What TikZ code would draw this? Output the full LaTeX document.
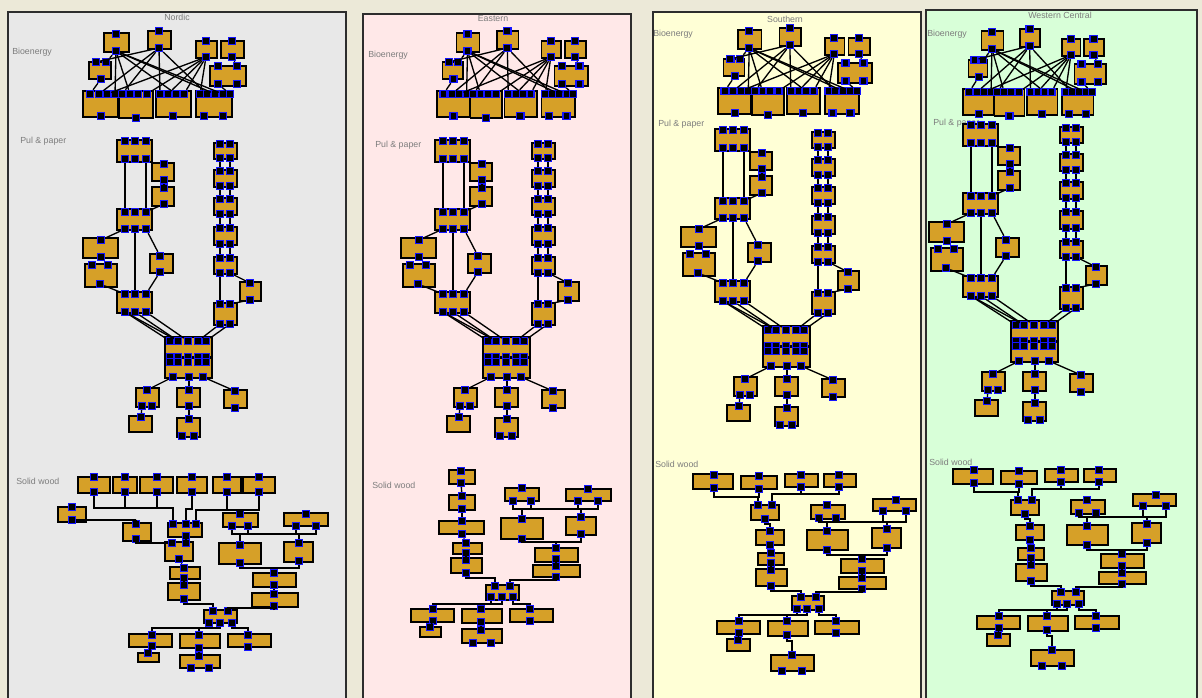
\documentclass[tikz,border=0pt]{standalone}
\usepackage{fontspec}
\setmainfont{Liberation Sans}
\definecolor{bgc}{RGB}{236,233,216}
\definecolor{nordicc}{RGB}{232,232,232}
\definecolor{easternc}{RGB}{255,232,232}
\definecolor{southernc}{RGB}{255,255,214}
\definecolor{westernc}{RGB}{216,255,216}
\definecolor{boxor}{RGB}{214,160,40}
\definecolor{portblue}{RGB}{20,20,255}
\definecolor{lblc}{RGB}{125,125,125}
\definecolor{framec}{RGB}{45,45,45}
\tikzset{
 blk/.style={draw=black, line width=1.15pt, fill=boxor},
 port/.style={rectangle, fill=black, draw=portblue, line width=1pt, minimum size=5.3pt, inner sep=0pt},
 wire/.style={draw=black, line width=1pt},
 panel/.style={draw=framec, line width=1.2pt},
 ttl/.style={text=lblc, font=\fontsize{6.6}{7}\selectfont, inner sep=0pt},
 sec/.style={ttl, anchor=west},
}
\newcommand\myBx[4]{\draw[blk] (#1,#2) rectangle (#3,#4);}
\newcommand\myPt[3]{\node[port] (#1) at (#2,#3) {};}
\newcommand\myWl[2]{\draw[wire] (#1) -- (#2);}
\newcommand\myWo[3]{\draw[wire] (#1) -- ++(0,#3) -| (#2);}
\newcommand\myRbox[3]{\myBx{214}{#2}{237}{#3}%
 \myPt{#1t1}{220}{#2+1}\myPt{#1t2}{230}{#2+1}\myPt{#1b1}{220}{#3-1}\myPt{#1b2}{230}{#3-1}}
% ---------------- Bioenergy (Nordic coordinates)
\newcommand\myBio{%
\myBx{104}{33}{129}{52}\myPt{bAt}{116}{34}\myPt{bAb}{116}{51}
\myBx{148}{31}{171}{49}\myPt{bBt}{159}{31}\myPt{bBb}{159}{48}
\myBx{196}{41}{217}{58}\myPt{bCt}{206}{41}\myPt{bCb}{206}{57}
\myBx{221}{41}{244}{58}\myPt{bDt}{232}{41}\myPt{bDb}{232}{57}
\myBx{89}{62}{111}{79}\myPt{bEt1}{96}{62}\myPt{bEt2}{106}{62}\myPt{bEb}{101}{79}
\myBx{210}{66}{246}{86}\myPt{bFt1}{218}{66}\myPt{bFt2}{237}{66}\myPt{bFb1}{218}{84}\myPt{bFb2}{237}{84}
\myBx{83}{91}{118}{117}\myPt{bGt1}{90}{94}\myPt{bGt2}{99}{94}\myPt{bGt3}{107}{94}\myPt{bGt4}{115}{94}\myPt{bGb}{101}{116}
\myBx{119}{91}{153}{118}\myPt{bHt1}{122}{94}\myPt{bHt2}{130}{94}\myPt{bHt3}{138}{94}\myPt{bHt4}{147}{94}\myPt{bHb}{136}{118}
\myBx{156}{91}{191}{117}\myPt{bIt1}{160}{94}\myPt{bIt2}{168}{94}\myPt{bIt3}{176}{94}\myPt{bIt4}{184}{94}\myPt{bIb}{173}{116}
\myBx{196}{91}{232}{117}\myPt{bJt1}{200}{94}\myPt{bJt2}{207}{94}\myPt{bJt3}{215}{94}\myPt{bJt4}{223}{94}\myPt{bJt5}{230}{94}
\myPt{bJb1}{204}{116}\myPt{bJb2}{223}{116}
\myWl{bAb}{bGt4}\myWl{bAb}{bHt2}\myWl{bAb}{bIt3}\myWl{bAb}{bJt3}\myWl{bAb}{bJt4}\myWl{bAb}{bEt2}
\myWl{bBb}{bIt1}\myWl{bBb}{bGt2}\myWl{bBb}{bHt1}\myWl{bBb}{bJt2}\myWl{bBb}{bEt1}
\myWl{bCb}{bGt3}\myWl{bCb}{bHt4}\myWl{bCb}{bIt2}\myWl{bCb}{bJt1}\myWl{bCb}{bIt4}
\myWl{bDb}{bFt2}\myWl{bEb}{bGt1}\myWl{bFb1}{bJt5}
}
% ---------------- Pulp & paper (Nordic coordinates)
\newcommand\myPulp{%
\myBx{117}{140}{152}{162}
\myPt{pAt1}{125}{141}\myPt{pAt2}{135}{141}\myPt{pAt3}{146}{141}
\myPt{pAb1}{125}{159}\myPt{pAb2}{135}{159}\myPt{pAb3}{146}{159}
\myBx{152}{163}{174}{181}\myPt{pBt}{164}{164}\myPt{pBb}{164}{180}
\myBx{152}{187}{174}{206}\myPt{pCt}{164}{188}\myPt{pCb}{164}{204}
\myBx{117}{209}{152}{230}
\myPt{pDt1}{125}{212}\myPt{pDt2}{135}{212}\myPt{pDt3}{146}{212}
\myPt{pDb1}{125}{229}\myPt{pDb2}{135}{229}\myPt{pDb3}{146}{229}
\myBx{83}{238}{118}{258}\myPt{pEt}{101}{240}\myPt{pEb}{101}{257}
\myBx{85}{264}{117}{287}\myPt{pFt1}{92}{265}\myPt{pFt2}{108}{265}\myPt{pFb}{100}{284}
\myBx{150}{254}{173}{273}\myPt{pGt}{160}{256}\myPt{pGb}{160}{272}
\myBx{117}{292}{152}{313}
\myPt{pHt1}{125}{294}\myPt{pHt2}{135}{294}\myPt{pHt3}{146}{294}
\myPt{pHb1}{125}{312}\myPt{pHb2}{135}{312}\myPt{pHb3}{146}{312}
\myRbox{pR1}{143}{159}\myRbox{pR2}{170}{187}\myRbox{pR3}{198}{215}
\myRbox{pR4}{227}{245}\myRbox{pR5}{257}{274}\myRbox{pR6}{303}{325}
\myBx{240}{282}{261}{301}\myPt{pSt}{250}{283}\myPt{pSb}{250}{300}
\myBx{165}{337}{212}{357}\myBx{165}{358}{212}{378}
\myPt{pKt1}{170}{341}\myPt{pKt2}{178}{341}\myPt{pKt3}{188}{341}\myPt{pKt4}{198}{341}\myPt{pKt5}{206}{341}
\myPt{pKu1}{170}{357}\myPt{pKu2}{178}{357}\myPt{pKu3}{188}{357}\myPt{pKu4}{198}{357}\myPt{pKu5}{206}{357}
\myPt{pKv1}{170}{362}\myPt{pKv2}{178}{362}\myPt{pKv3}{188}{362}\myPt{pKv4}{198}{362}\myPt{pKv5}{206}{362}
\myPt{pKb1}{173}{377}\myPt{pKb2}{189}{377}\myPt{pKb3}{203}{377}
\myBx{136}{388}{159}{407}\myPt{pU1t}{147}{390}\myPt{pU1b}{142}{406}\myPt{pU1c}{152}{406}
\myBx{129}{416}{152}{432}\myPt{pU2t}{141}{417}
\myBx{177}{388}{200}{407}\myPt{pU3t}{189}{390}\myPt{pU3b}{189}{406}
\myBx{177}{418}{200}{437}\myPt{pU4t}{189}{419}\myPt{pU4b}{182}{436}\myPt{pU4c}{194}{436}
\myBx{224}{390}{247}{408}\myPt{pU5t}{235}{391}\myPt{pU5b}{235}{408}
\myWl{pAb1}{pDt1}\myWl{pAb3}{pDt3}\myWl{pBb}{pCt}\myWl{pCb}{pDt3}
\myWl{pDb1}{pEt}\myWl{pDb2}{pHt2}\myWl{pDb3}{pGt}
\myWl{pFb}{pHt1}\myWl{pGb}{pHt3}
\myWl{pHb1}{pKt1}\myWl{pHb2}{pKt2}\myWl{pHb3}{pKt3}\myWl{pHb1}{pKt2}
\myWl{pR1b1}{pR2t1}\myWl{pR1b2}{pR2t2}\myWl{pR2b1}{pR3t1}\myWl{pR2b2}{pR3t2}
\myWl{pR3b1}{pR4t1}\myWl{pR3b2}{pR4t2}\myWl{pR4b1}{pR5t1}\myWl{pR4b2}{pR5t2}
\myWl{pR5b1}{pR6t1}\myWl{pR5b2}{pSt}\myWl{pSb}{pR6t2}
\myWl{pR6b1}{pKt4}\myWl{pR6b2}{pKt5}
\myWl{pKb1}{pU1t}\myWl{pKb2}{pU3t}\myWl{pKb3}{pU5t}\myWl{pU1b}{pU2t}\myWl{pU3b}{pU4t}
}
% ---------------- Solid wood, Nordic
\newcommand\mySolidN{%
\myBx{78}{477}{110}{493}\myPt{sS1t}{94}{477}\myPt{sS1b}{94}{492}
\myBx{113}{477}{137}{493}\myPt{sS2t}{125}{477}\myPt{sS2b}{125}{492}
\myBx{140}{477}{173}{493}\myPt{sS3t}{157}{477}\myPt{sS3b}{157}{492}
\myBx{177}{477}{207}{493}\myPt{sS4t}{192}{477}\myPt{sS4b}{192}{492}
\myBx{213}{477}{241}{493}\myPt{sS5t}{227}{477}\myPt{sS5b}{227}{492}
\myBx{243}{477}{275}{493}\myPt{sS6t}{259}{477}\myPt{sS6b}{259}{492}
\myBx{58}{507}{86}{522}\myPt{sS7t}{72}{507}\myPt{sS7b}{72}{520}
\myBx{168}{523}{202}{537}\myPt{sM1t1}{173}{524}\myPt{sM1t2}{186}{524}\myPt{sM1t3}{196}{524}\myPt{sM1b}{186}{536}
\myBx{123}{523}{151}{541}\myPt{sS8t}{136}{524}\myPt{sS8b}{136}{539}
\myBx{165}{542}{193}{561}\myPt{sM2t1}{172}{543}\myPt{sM2t2}{186}{543}\myPt{sM2b}{179}{559}
\myBx{170}{567}{200}{579}\myPt{sM3t}{184}{568}\myPt{sM3b}{184}{578}
\myBx{168}{583}{200}{600}\myPt{sM4t}{184}{585}\myPt{sM4b}{184}{599}
\myBx{223}{513}{258}{527}\myPt{sT1t}{240}{514}\myPt{sT1b1}{232}{526}\myPt{sT1b2}{248}{526}
\myBx{284}{513}{328}{526}\myPt{sT2t}{306}{514}\myPt{sT2b1}{296}{526}\myPt{sT2b2}{316}{526}
\myBx{219}{543}{261}{564}\myPt{sT3t}{240}{545}\myPt{sT3b}{240}{563}
\myBx{284}{542}{313}{562}\myPt{sT4t}{299}{543}\myPt{sT4b}{299}{561}
\myBx{253}{573}{296}{587}\myPt{sT5t}{274}{573}\myPt{sT5b}{274}{585}
\myBx{252}{593}{298}{607}\myPt{sT6t}{274}{594}\myPt{sT6b}{274}{606}
\myBx{204}{610}{237}{623}\myPt{sJt1}{213}{611}\myPt{sJt2}{228}{611}\myPt{sJb1}{209}{623}\myPt{sJb2}{220}{623}\myPt{sJb3}{232}{623}
\myBx{129}{634}{172}{647}\myPt{sU1t}{152}{635}\myPt{sU1b}{152}{646}
\myBx{138}{653}{159}{662}\myPt{sU2t}{148}{653}
\myBx{180}{634}{220}{648}\myPt{sU3t}{199}{635}\myPt{sU3b}{199}{648}
\myBx{180}{655}{220}{668}\myPt{sU4t}{199}{656}\myPt{sU4b}{191}{668}\myPt{sU4c}{209}{668}
\myBx{228}{634}{271}{647}\myPt{sU5t}{248}{635}\myPt{sU5b}{248}{647}
\myWo{sS1b}{sM1t1}{16}\myWo{sS2b}{sM1t1}{16}\myWo{sS3b}{sM1t1}{16}
\myWo{sS4b}{sM1t2}{17}\myWo{sS5b}{sM1t3}{18}\myWo{sS6b}{sM1t3}{18}
\draw[wire] (sS7b) -| (sS8t);
\draw[wire] (sS8b) |- (sM2t1);
\myWl{sM1b}{sM2t2}\myWl{sM2b}{sM3t}\myWl{sM3b}{sM4t}
\myWo{sM4b}{sJt1}{5}
\myWo{sT1b1}{sT3t}{8}\myWo{sT1b2}{sT4t}{8}\myWo{sT2b1}{sT3t}{8}\myWo{sT2b2}{sT4t}{8}
\myWo{sT3b}{sT5t}{5}\myWo{sT4b}{sT5t}{7}
\myWl{sT5b}{sT6t}
\myWo{sT6b}{sJt2}{2}
\myWo{sJb1}{sU1t}{5}\myWo{sJb2}{sU3t}{5}\myWo{sJb3}{sU5t}{5}
\myWl{sU1b}{sU2t}\myWl{sU3b}{sU4t}
}
% ---------------- Solid wood, Eastern
\newcommand\mySolidE{%
\myBx{449}{470}{475}{484}\myPt{sE1t}{461}{471}\myPt{sE1b}{461}{483}
\myBx{449}{495}{475}{510}\myPt{sE2t}{462}{496}\myPt{sE2b}{462}{509}
\myBx{439}{521}{484}{534}\myPt{sE3t}{462}{521}\myPt{sE3b}{462}{534}
\myBx{453}{543}{482}{554}\myPt{sE4t}{466}{543}\myPt{sE4b}{466}{553}
\myBx{451}{558}{482}{573}\myPt{sE5t}{466}{560}\myPt{sE5b}{466}{573}
\myBx{505}{488}{539}{501}\myPt{sT1t}{522}{488}\myPt{sT1b1}{513}{501}\myPt{sT1b2}{531}{501}
\myBx{566}{489}{611}{501}\myPt{sT2t}{588}{489}\myPt{sT2b1}{578}{501}\myPt{sT2b2}{598}{501}
\myBx{501}{518}{543}{539}\myPt{sT3t}{522}{519}\myPt{sT3b}{522}{539}
\myBx{566}{517}{596}{535}\myPt{sT4t}{581}{517}\myPt{sT4b}{581}{534}
\myBx{535}{548}{578}{562}\myPt{sT5t}{556}{548}\myPt{sT5b}{556}{559}
\myBx{533}{565}{580}{577}\myPt{sT6t}{556}{566}\myPt{sT6b}{556}{577}
\myBx{486}{585}{519}{600}\myPt{sJt1}{495}{586}\myPt{sJt2}{510}{586}\myPt{sJb1}{491}{597}\myPt{sJb2}{502}{597}\myPt{sJb3}{513}{597}
\myBx{411}{609}{454}{622}\myPt{sU1t}{433}{609}\myPt{sU1b}{433}{621}
\myBx{420}{627}{441}{637}\myPt{sU2t}{430}{627}
\myBx{462}{609}{502}{623}\myPt{sU3t}{481}{609}\myPt{sU3b}{481}{622}
\myBx{462}{629}{502}{643}\myPt{sU4t}{481}{630}\myPt{sU4b}{473}{643}\myPt{sU4c}{491}{643}
\myBx{510}{609}{553}{622}\myPt{sU5t}{530}{609}\myPt{sU5b}{530}{621}
\myWl{sE1b}{sE2t}\myWl{sE2b}{sE3t}\myWl{sE3b}{sE4t}\myWl{sE4b}{sE5t}
\myWo{sE5b}{sJt1}{5}
\myWo{sT1b1}{sT3t}{8}\myWo{sT1b2}{sT4t}{8}\myWo{sT2b1}{sT3t}{8}\myWo{sT2b2}{sT4t}{8}
\myWo{sT3b}{sT5t}{3}\myWo{sT4b}{sT5t}{8}
\myWl{sT5b}{sT6t}
\myWo{sT6b}{sJt2}{3}
\myWo{sJb1}{sU1t}{7}\myWo{sJb2}{sU3t}{7}\myWo{sJb3}{sU5t}{7}
\myWl{sU1b}{sU2t}\myWl{sU3b}{sU4t}
}
% ---------------- Solid wood, Southern (also Western Central, shifted)
\newcommand\mySolidS{%
\myBx{693}{474}{733}{489}\myPt{sS1t}{714}{475}\myPt{sS1b}{714}{488}
\myBx{741}{476}{777}{489}\myPt{sS2t}{759}{476}\myPt{sS2b}{759}{489}
\myBx{785}{474}{818}{487}\myPt{sS3t}{801}{475}\myPt{sS3b}{801}{487}
\myBx{824}{474}{856}{487}\myPt{sS4t}{839}{475}\myPt{sS4b}{839}{487}
\myBx{751}{505}{779}{520}\myPt{sM1t1}{758}{505}\myPt{sM1t2}{772}{505}\myPt{sM1b}{765}{519}
\myBx{756}{530}{784}{545}\myPt{sM2t}{770}{531}\myPt{sM2b}{770}{545}
\myBx{758}{553}{784}{565}\myPt{sM3t}{771}{553}\myPt{sM3b}{771}{563}
\myBx{756}{569}{787}{586}\myPt{sM4t}{771}{570}\myPt{sM4b}{771}{586}
\myBx{811}{505}{845}{519}\myPt{sT1t}{827}{505}\myPt{sT1b1}{819}{518}\myPt{sT1b2}{836}{518}
\myBx{873}{499}{916}{511}\myPt{sT2t}{896}{500}\myPt{sT2b1}{883}{511}\myPt{sT2b2}{906}{511}
\myBx{807}{530}{848}{550}\myPt{sT3t}{827}{531}\myPt{sT3b}{827}{550}
\myBx{872}{528}{901}{548}\myPt{sT4t}{887}{529}\myPt{sT4b}{887}{548}
\myBx{841}{559}{884}{573}\myPt{sT5t}{862}{559}\myPt{sT5b}{862}{571}
\myBx{839}{577}{886}{589}\myPt{sT6t}{862}{578}\myPt{sT6b}{862}{589}
\myBx{792}{596}{824}{610}\myPt{sJt1}{801}{597}\myPt{sJt2}{816}{597}\myPt{sJb1}{797}{609}\myPt{sJb2}{807}{609}\myPt{sJb3}{819}{609}
\myBx{717}{621}{760}{634}\myPt{sU1t}{739}{621}\myPt{sU1b}{739}{633}
\myBx{727}{639}{750}{651}\myPt{sU2t}{738}{640}
\myBx{768}{621}{808}{636}\myPt{sU3t}{787}{621}\myPt{sU3b}{787}{635}
\myBx{771}{655}{814}{671}\myPt{sU4t}{792}{655}\myPt{sU4b}{782}{671}\myPt{sU4c}{802}{671}
\myBx{815}{621}{859}{634}\myPt{sU5t}{836}{621}\myPt{sU5b}{836}{633}
\myWo{sS1b}{sM1t1}{9}\myWo{sS2b}{sM1t1}{8}\myWo{sS3b}{sM1t2}{7}\myWo{sS4b}{sM1t2}{7}
\myWo{sM1b}{sM2t}{5}
\myWl{sM2b}{sM3t}\myWl{sM3b}{sM4t}
\myWo{sM4b}{sJt1}{5}
\myWo{sT1b1}{sT3t}{4}\myWo{sT1b2}{sT4t}{4}\myWo{sT2b1}{sT3t}{11}\myWo{sT2b2}{sT4t}{11}
\myWo{sT3b}{sT5t}{5}\myWo{sT4b}{sT5t}{7}
\myWl{sT5b}{sT6t}
\myWo{sT6b}{sJt2}{3}
\myWo{sJb1}{sU1t}{6}\myWo{sJb2}{sU3t}{6}\myWo{sJb3}{sU5t}{6}
\myWl{sU1b}{sU2t}\myWo{sU3b}{sU4t}{6}
}
\begin{document}
\begin{tikzpicture}[x=0.75pt,y=-0.75pt]
\useasboundingbox (0,0) rectangle (1202,698);
\clip (0,0) rectangle (1202,698);
\fill[bgc] (0,0) rectangle (1202,698);
% panels
\draw[panel, fill=nordicc] (8,12) rectangle (346,712);
\draw[panel, fill=easternc] (363,14) rectangle (631,712);
\draw[panel, fill=southernc] (653,12) rectangle (921,712);
\draw[panel, fill=westernc] (926,10) rectangle (1197,712);
% titles
\node[ttl] (tN) at (177,17) {Nordic};
\node[ttl] (tE) at (493,19) {Eastern};
\node[ttl] (tS) at (785,19) {Southern};
\node[ttl] (tW) at (1060,15) {Western Central};
% section labels
\node[sec] (lN1) at (12,52) {Bioenergy};
\node[sec] (lN2) at (20,141) {Pul \& paper};
\node[sec] (lN3) at (16,481) {Solid wood};
\node[sec] (lE1) at (368,55) {Bioenergy};
\node[sec] (lE2) at (375,145) {Pul \& paper};
\node[sec] (lE3) at (372,485) {Solid wood};
\node[sec] (lS1) at (653,34) {Bioenergy};
\node[sec] (lS2) at (658,124) {Pul \& paper};
\node[sec] (lS3) at (655,464) {Solid wood};
\node[sec] (lW1) at (927,34) {Bioenergy};
\node[sec] (lW2) at (933,123) {Pul \& paper};
\node[sec] (lW3) at (929,462) {Solid wood};
% Nordic
\begin{scope}[name prefix=N-]
\myBio \myPulp \mySolidN
\end{scope}
% Eastern
\begin{scope}[name prefix=E-]
\begin{scope}[shift={(360.1,0)}, xscale=0.926]\myBio\end{scope}
\begin{scope}[shift={(318,0)}]\myPulp\end{scope}
\mySolidE
\end{scope}
% Southern
\begin{scope}[name prefix=S-]
\begin{scope}[shift={(639.6,-3)}, xscale=0.945]\myBio\end{scope}
\begin{scope}[shift={(598,-11)}]\myPulp\end{scope}
\mySolidS
\end{scope}
% Western Central
\begin{scope}[name prefix=W-]
\begin{scope}[shift={(890.2,-2)}, xscale=0.877]\myBio\end{scope}
\begin{scope}[shift={(846,-16)}]\myPulp\end{scope}
\begin{scope}[shift={(260,-5)}]\mySolidS\end{scope}
\end{scope}
\end{tikzpicture}
\end{document}
